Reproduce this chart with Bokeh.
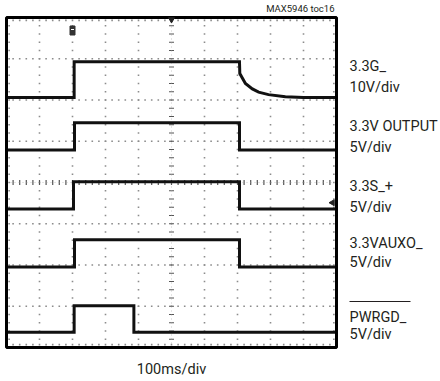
import numpy as np
from bokeh.plotting import figure
from bokeh.models import Label
from bokeh.embed import file_html
from bokeh.resources import INLINE

# ---- data (time in ms, 100 ms/div; voltages in V) ----
ch_names = ["3.3G_", "3.3V OUTPUT", "3.3S_+", "3.3VAUXO_", "PWRGD_"]
ch_scales = ["10V/div", "5V/div", "5V/div", "5V/div", "5V/div"]
volts_per_div = [10, 5, 5, 5, 5]
ground_div = [6.06, 4.79, 3.36, 1.95, 0.37]

g_t = [0, 205, 205, 706, 707, 724, 745, 764, 794, 845, 900, 1000]
g_v = [0, 0, 8.7, 8.7, 5.8, 3.4, 2.1, 1.3, 0.7, 0.2, 0, 0]

out_t = [0, 206, 206, 706, 706, 1000]
out_v = [0, 0, 3.3, 3.3, 0, 0]

s_t = [0, 203, 203, 706, 706, 1000]
s_v = [0, 0, 3.3, 3.3, 0, 0]

aux_t = [0, 206, 206, 706, 706, 1000]
aux_v = [0, 0, 3.3, 3.3, 0, 0]

pg_t = [0, 205, 205, 386, 386, 1000]
pg_v = [0, 0, 3.2, 3.2, 0, 0]

traces_t = [g_t, out_t, s_t, aux_t, pg_t]
traces_v = [g_v, out_v, s_v, aux_v, pg_v]

x_label = "100ms/div"
note = "MAX5946 toc16"

# ---- layout ----
W, H = 440, 381
FL, FR, FT, FB = 6, 336, 17, 347
XMAX, YMAX = 1000, 8
FONT = "Roboto"

def px2x(px):
    return (px - FL) / (FR - FL) * XMAX

def px2y(py):
    return (FB - py) / (FB - FT) * YMAX

p = figure(width=W, height=H, x_range=(px2x(0), px2x(W)), y_range=(px2y(H), px2y(0)),
           min_border=0, x_axis_location=None, y_axis_location=None,
           output_backend="svg", toolbar_location=None)
p.grid.visible = False
p.outline_line_color = None
p.background_fill_color = "white"
p.border_fill_color = "white"

# graticule dots
dx, dy = [], []
for gx in range(100, 1000, 100):
    if gx == 500:
        continue
    for k in range(1, 40):
        dx.append(gx); dy.append(k * 0.2)
for gy in range(1, 8):
    if gy == 4:
        continue
    for k in range(1, 50):
        dx.append(k * 20); dy.append(gy)
for k in range(1, 50):
    dx += [k * 20, k * 20]; dy += [0.07, YMAX - 0.07]
for k in range(1, 40):
    dx += [8, XMAX - 8]; dy += [k * 0.2, k * 0.2]
p.scatter(dx, dy, marker="square", size=1.6, color="#8c8c8c", line_color=None)

# center axes with ticks
cx = [500] * 39
cy = [k * 0.2 for k in range(1, 40)]
p.scatter(cx, cy, marker="dash", size=5, color="#555", line_width=1.2)
hx = [k * 20 for k in range(1, 50)]
hy = [4] * 49
p.scatter(hx, hy, marker="dash", size=5, angle=np.pi / 2, color="#555", line_width=1.2)
p.line([500, 500], [0, YMAX], color="#aaa", line_width=0.6, line_dash="1 3")
p.line([0, XMAX], [4, 4], color="#aaa", line_width=0.6, line_dash="1 3")

# traces
for t, v, off, vpd in zip(traces_t, traces_v, ground_div, volts_per_div):
    y = [off + vv / vpd for vv in v]
    p.line(t, y, color="#111", line_width=3, line_join="miter")

# frame
p.quad(left=[0], right=[XMAX], bottom=[0], top=[YMAX], fill_color=None,
       line_color="black", line_width=3)

# markers
p.rect(x=[200], y=[px2y(30)], width=5, height=9, width_units="screen",
       height_units="screen", color="#333")
p.scatter([200], [px2y(29)], marker="dash", size=3, color="white", line_width=1)
p.scatter([500], [px2y(19)], marker="inverted_triangle", size=6, color="#222")
p.scatter([px2x(332)], [ground_div[2] + 0.15], marker="triangle", angle=np.pi / 2,
          size=6, color="#222")

# channel labels (cap-bottom pixel positions, minus render offset)
SHIFT = 6
lab_y = [(72, 93), (132, 153), (192, 213), (249, 268), (323, 340)]
for name, sc, (y1, y2) in zip(ch_names, ch_scales, lab_y):
    for txt, yy in ((name, y1), (sc, y2)):
        p.add_layout(Label(x=px2x(349), y=px2y(yy - SHIFT), text=txt, text_font=FONT,
                           text_font_size="14.5px", text_color="#231f20",
                           text_baseline="alphabetic", text_align="left"))
# overline on PWRGD
p.line([px2x(349), px2x(410)], [px2y(301), px2y(301)], color="#231f20", line_width=1.2)

p.add_layout(Label(x=px2x(171), y=px2y(375 - SHIFT), text=x_label, text_font=FONT,
                   text_font_size="14.5px", text_color="#231f20",
                   text_baseline="alphabetic", text_align="center"))
p.add_layout(Label(x=px2x(334), y=px2y(12 - 4), text=note, text_font=FONT,
                   text_font_size="9.5px", text_color="#231f20",
                   text_baseline="alphabetic", text_align="right"))

open("out.html", "w").write(file_html(p, INLINE))
